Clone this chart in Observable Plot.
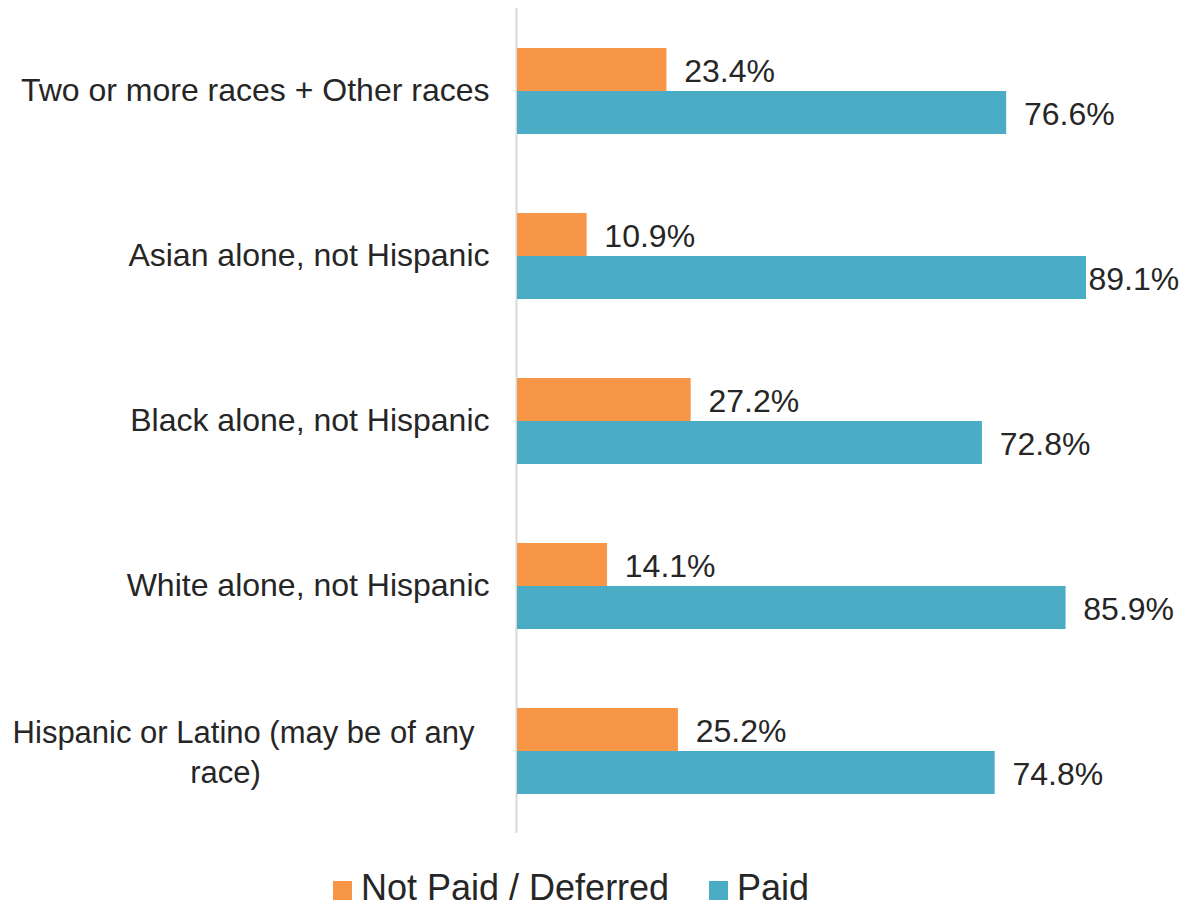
<!DOCTYPE html>
<html>
<head>
<meta charset="utf-8">
<script src="https://cdn.jsdelivr.net/npm/d3@7"></script>
<script src="https://cdn.jsdelivr.net/npm/@observablehq/plot@0.6"></script>
<style>
  html, body { margin: 0; padding: 0; background: #fff; }
  body { width: 1180px; height: 907px; overflow: hidden; font-family: "Liberation Sans", Arial, sans-serif; }
  #legend { position: absolute; top: 870px; left: 0; width: 1180px; height: 36px; font-family: "Liberation Sans", Arial, sans-serif; font-size: 36px; line-height: 36px; color: #262626; }
  .item { position: absolute; top: 0; display: flex; align-items: center; height: 36px; }
  .sw { width: 19px; height: 19px; margin-right: 9px; margin-top: 4px; }
</style>
</head>
<body>
<div id="chart"></div>
<div id="legend"></div>
<script>
const categories = [
  "Two or more races + Other races",
  "Asian alone, not Hispanic",
  "Black alone, not Hispanic",
  "White alone, not Hispanic",
  "Hispanic or Latino (may be of any\nrace)"
];
const series = ["Not Paid / Deferred", "Paid"];
const notPaid = [23.4, 10.9, 27.2, 14.1, 25.2];
const paid = [76.6, 89.1, 72.8, 85.9, 74.8];
const colors = ["#f79646", "#4bacc6"];

const data = [];
categories.forEach((c, i) => {
  data.push({category: c, series: series[0], value: notPaid[i]});
  data.push({category: c, series: series[1], value: paid[i]});
});
const labelData = categories.map(c => ({category: c}));
const single = labelData.filter(d => !d.category.includes("\n"));
const multi = labelData.filter(d => d.category.includes("\n"));

const chart = Plot.plot({
  width: 1180,
  height: 850,
  marginLeft: 517,
  marginRight: 24.4,
  marginTop: 8,
  marginBottom: 17,
  style: {fontFamily: "'Liberation Sans', Arial, sans-serif", background: "#fff"},
  x: {domain: [0, 100], axis: null},
  y: {domain: series, axis: null, paddingInner: 0, paddingOuter: 0.9},
  fy: {domain: categories, axis: null, padding: 0},
  color: {domain: series, range: colors},
  marks: [
    Plot.ruleX(labelData, {fy: "category", x: () => 0, stroke: "#d9d9d9", strokeWidth: 2, dx: -1}),
    Plot.barX(data, {fy: "category", y: "series", x: "value", fill: "series"}),
    Plot.text(data, {
      fy: "category", y: "series",
      x: d => Math.min(d.value + 2.7, 89.4),
      text: d => d.value.toFixed(1) + "%",
      textAnchor: "start", fontSize: 32, fill: "#262626", dy: 2
    }),
    Plot.text(single, {
      fy: "category", text: "category", frameAnchor: "left",
      textAnchor: "end", dx: -28, fontSize: 32, fill: "#262626"
    }),
    Plot.text(multi, {
      fy: "category", text: d => d.category.split("\n")[0], frameAnchor: "left",
      textAnchor: "middle", dx: -274, dy: -18, fontSize: 31, fill: "#262626"
    }),
    Plot.text(multi, {
      fy: "category", text: d => d.category.split("\n")[1], frameAnchor: "left",
      textAnchor: "middle", dx: -292, dy: 22, fontSize: 31, fill: "#262626"
    })
  ]
});
document.getElementById("chart").appendChild(chart);

const legend = document.getElementById("legend");
const positions = [333, 709];
series.forEach((s, i) => {
  const item = document.createElement("div");
  item.className = "item";
  item.style.left = positions[i] + "px";
  const sw = document.createElement("div");
  sw.className = "sw";
  sw.style.background = colors[i];
  const t = document.createElement("span");
  t.textContent = s;
  item.appendChild(sw);
  item.appendChild(t);
  legend.appendChild(item);
});
</script>
</body>
</html>
